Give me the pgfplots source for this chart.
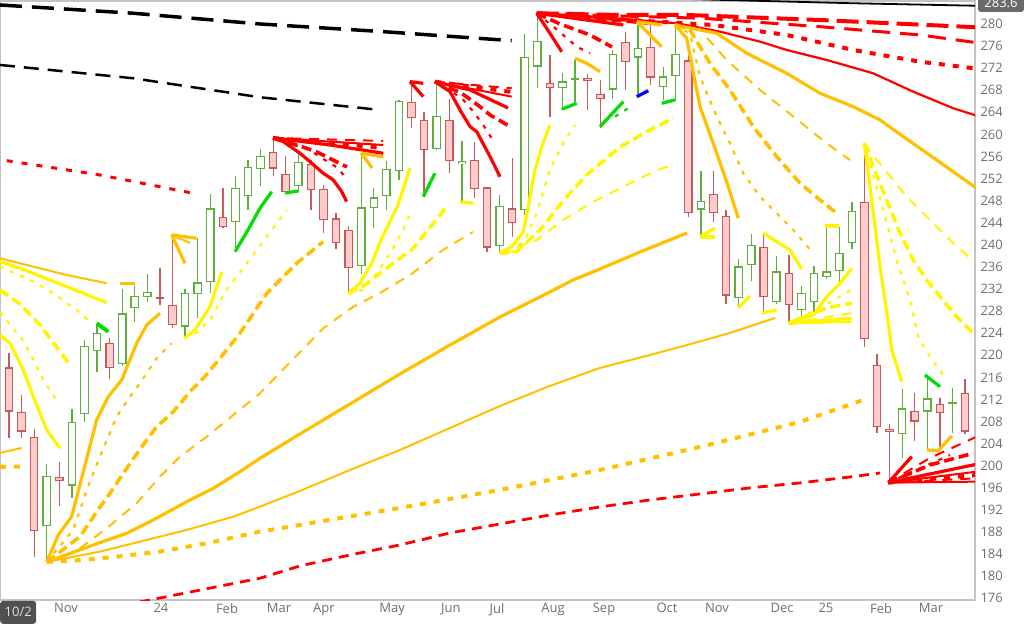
\documentclass[border=0pt]{standalone}
\usepackage{fontspec}
\setmainfont{Open Sans}
\usepackage{pgfplots}
\usepackage{pgfplotstable}
\pgfplotsset{compat=1.18}
\definecolor{ylw}{HTML}{FFF500}
\definecolor{orng}{HTML}{FFC000}
\definecolor{rd}{HTML}{FF0000}
\definecolor{grn}{HTML}{00DD00}
\definecolor{blu}{HTML}{0000FF}
\definecolor{gout}{HTML}{5FAE3E}
\definecolor{rout}{HTML}{C65A5A}
\definecolor{rfill}{HTML}{FFCCCC}
\definecolor{axgray}{HTML}{C4C4C4}
\definecolor{tickgray}{HTML}{6E6E6E}
\definecolor{boxgray}{HTML}{505050}
\definecolor{lblgray}{HTML}{6A6A6A}
\tikzset{
 sthk/.style={line width=3.2pt, solid},
 sthn/.style={line width=2pt, solid},
 dotn/.style={line width=2.2pt, dash pattern=on 4pt off 7pt},
 dshk/.style={line width=3.6pt, dash pattern=on 10pt off 5pt},
 dshn/.style={line width=2pt, dash pattern=on 10pt off 8pt},
 dotk/.style={line width=4pt, dash pattern=on 6pt off 8pt},
}
\pgfplotstableread{
i o h l c
3 189.1 200.3 182.5 198.2
5 196.4 210.3 194.1 208.0
6 209.4 222.8 208.0 221.7
7 220.7 225.5 216.9 224.0
9 218.4 232.1 218.1 227.6
10 228.5 232.6 226.1 230.8
11 230.5 234.7 229.7 231.5
14 225.2 232.1 223.1 231.3
15 231.1 241.2 226.7 233.2
16 233.2 249.2 231.3 246.6
18 244.1 252.4 238.7 250.3
19 248.9 255.3 246.3 254.1
20 253.7 257.4 250.6 256.1
23 250.7 256.5 249.6 255.0
28 236.2 256.0 234.7 246.8
29 246.6 250.3 243.0 248.6
30 248.9 255.1 246.3 253.7
31 253.3 266.2 251.8 266.1
34 257.4 269.6 257.1 263.4
36 254.6 258.8 247.5 255.2
39 239.8 249.0 238.5 247.1
41 246.3 278.1 245.4 274.1
42 272.3 281.9 268.4 277.0
44 268.4 271.1 265.0 269.6
45 269.8 273.5 265.9 270.2
48 268.1 275.3 266.5 274.6
50 273.9 280.2 267.3 275.6
52 268.6 272.3 266.2 270.5
53 270.6 279.8 266.1 274.6
55 246.4 253.3 241.6 248.0
58 230.3 237.4 228.9 236.1
59 236.4 241.9 233.4 240.0
61 229.7 238.0 229.3 235.2
63 228.2 232.6 227.0 231.3
64 229.7 236.2 227.9 235.0
65 234.2 243.4 233.8 235.2
66 235.2 243.3 233.0 238.6
67 240.3 247.8 239.3 246.1
71 205.7 213.9 201.5 210.4
73 209.8 215.8 203.0 212.2
75 211.3 214.0 206.0 211.5
}\upc
\pgfplotstableread{
i o h l c
0 217.8 220.5 205.0 209.8
1 209.8 212.8 205.0 206.2
2 205.3 206.7 183.5 188.2
4 198.0 200.7 192.7 197.3
8 222.3 223.2 215.8 217.7
12 230.5 235.8 229.1 230.3
13 229.1 241.8 224.9 225.5
17 245.0 250.3 243.1 243.2
21 256.8 259.3 252.5 253.8
22 252.8 256.1 249.5 249.6
24 254.6 255.4 246.3 249.9
25 250.1 250.8 242.1 244.5
26 244.8 245.7 239.3 240.3
27 242.7 243.5 231.2 235.8
32 265.9 269.3 261.1 262.9
33 262.7 264.1 248.9 257.1
35 262.7 266.4 253.0 255.1
37 255.4 258.7 248.4 250.1
38 250.4 250.5 238.8 239.5
40 246.6 255.7 241.5 243.9
43 269.3 274.4 263.1 268.4
46 270.3 271.0 264.4 269.6
47 267.4 269.9 261.1 266.4
49 276.8 278.5 268.0 273.1
51 275.9 279.8 269.0 270.3
54 273.4 274.4 245.1 245.7
56 249.2 253.3 244.2 245.7
57 245.2 246.3 229.3 230.8
60 239.7 241.9 228.0 230.5
62 235.0 238.2 225.8 229.1
68 247.8 258.4 221.6 223.0
69 218.3 220.2 206.0 207.0
70 206.7 207.5 196.9 206.2
72 210.0 213.1 204.5 208.0
74 211.2 212.3 203.2 209.5
76 213.2 215.7 205.8 206.2
}\dnc
\newcommand{\drawcandles}[3]{%
\addplot[draw=none, mark=none, error bars/.cd, y dir=both, y explicit, error mark=none, error bar style={line width=1.3pt, draw=#2, solid}] table[x=i, y expr={(\thisrow{h}+\thisrow{l})/2}, y error expr={(\thisrow{h}-\thisrow{l})/2}] {#1};
\addplot[draw=none, mark=none, error bars/.cd, y dir=both, y explicit, error mark=none, error bar style={line width=8.6pt, draw=#2, solid}] table[x=i, y expr={(\thisrow{o}+\thisrow{c})/2}, y error expr={max(abs(\thisrow{c}-\thisrow{o})/2,0.13)}] {#1};
\addplot[draw=none, mark=none, error bars/.cd, y dir=both, y explicit, error mark=none, error bar style={line width=6.2pt, draw=#3, solid}] table[x=i, y expr={(\thisrow{o}+\thisrow{c})/2}, y error expr={max(abs(\thisrow{c}-\thisrow{o})/2-0.22,0)}] {#1};
}
\begin{document}
\begin{tikzpicture}
\useasboundingbox (0,0) rectangle (1024pt,625pt);
\begin{axis}[
 at={(0pt,25pt)}, anchor=south west,
 scale only axis, width=975pt, height=599pt,
 xmin=-0.715, xmax=76.79, ymin=175.7, ymax=284.16,
 axis line style={draw=axgray, line width=1.2pt},
 ytick={176,180,...,280},
 yticklabel pos=right,
 xtick={4.53,12.08,17.33,21.46,25.04,30.45,35.13,38.79,43.24,47.3,52.31,56.28,61.45,64.94,69.32,73.29},
 xticklabels={Nov,24,Feb,Mar,Apr,May,Jun,Jul,Aug,Sep,Oct,Nov,Dec,25,Feb,Mar},
 major tick length=0pt,
 tick style={draw=none},
 ticklabel style={font=\fontsize{13}{15}\selectfont, text=tickgray},
 /pgf/number format/assume math mode=true,
 yticklabel style={anchor=west, xshift=2pt},
 xticklabel style={anchor=north},
 no markers,
 every axis plot/.append style={line join=round},
]
\drawcandles{\upc}{gout}{white}
\drawcandles{\dnc}{rout}{rfill}

% black lines at top
\addplot[black, line width=3.5pt, dash pattern=on 22pt off 10pt] coordinates {(-0.72,283.44)(9.88,281.94)(19.95,280.00)(29.75,278.61)(39.96,276.98)};
\addplot[black, line width=2.5pt, dash pattern=on 15pt off 9pt] coordinates {(-0.72,272.58)(9.88,270.17)(19.95,266.73)(29.49,264.43)};
\addplot[black, line width=1.8pt] coordinates {(53.0,284.6)(56.78,284.35)(67.11,283.75)(76.92,283.3)};
\addplot[rd, line width=3pt, dash pattern=on 6pt off 9pt] coordinates {(-0.18,255.25)(7.23,252.66)(14.65,249.35)};

% top-left fan
\addplot[orng, sthn] coordinates {(-0.72,237.58)(1.93,236.06)(4.59,234.55)(7.77,233.05)};
\addplot[orng, sthk] coordinates {(8.82,233.05)(10.02,233.05)};
\addplot[ylw, sthk] coordinates {(-0.72,236.96)(0.87,235.77)(3.26,233.65)(5.91,231.24)(7.77,229.54)};
\addplot[ylw, dotn] coordinates {(-0.72,236.06)(1.67,233.65)(3.52,231.24)(5.38,228.22)(6.57,225.81)};
\addplot[ylw, dshk] coordinates {(-0.72,231.84)(0.87,229.30)(2.46,225.50)(3.66,221.88)(4.85,218.26)};
\addplot[ylw, dotn] coordinates {(-0.72,227.85)(1.27,222.24)(1.93,219.16)(2.73,215.54)(3.79,211.92)};
\addplot[ylw, sthk] coordinates {(-0.72,223.69)(0.08,222.19)(1.14,217.35)(1.93,212.52)(3.0,206.49)(4.05,203.17)};
\addplot[orng, sthn] coordinates {(-0.72,202.33)(1.01,203.23)};
\addplot[orng, dotk] coordinates {(-0.72,199.79)(1.01,199.85)};
\addplot[grn, line width=4pt] coordinates {(6.97,225.81)(7.89,224.29)};

% L1 fan from Oct 2023 low
\addplot[orng, sthk] coordinates {(3.0,182.6)(3.92,187.48)(4.98,190.79)(6.97,208.30)(7.89,212.52)(8.96,215.54)(10.15,222.19)(10.95,225.50)(12.0,227.62)};
\addplot[orng, dotn] coordinates {(3.0,182.6)(5.11,188.39)(6.18,195.63)(7.23,201.66)(8.56,208.90)(9.62,212.52)(10.41,214.94)(11.74,219.47)(12.93,222.19)};
\addplot[orng, dshk] coordinates {(3.0,182.6)(5.64,187.17)(6.97,191.70)(8.03,195.03)(9.62,200.46)(10.95,204.68)(11.74,207.09)(13.06,209.80)(14.39,213.42)(15.45,215.85)(16.77,219.47)(18.36,224.00)(20.49,231.24)(22.87,236.67)(24.98,240.58)};
\addplot[orng, dshn] coordinates {(3.0,182.6)(5.11,184.16)(7.77,188.69)(10.15,193.22)(12.0,198.03)(13.59,201.66)(15.72,205.28)(17.83,209.20)(19.95,213.13)(24.98,224.90)(27.37,228.81)(29.49,231.29)(31.88,234.55)(34.5,239.08)(36.88,242.34)};
\addplot[orng, sthk] coordinates {(3.0,182.6)(6.70,185.67)(9.36,187.79)(11.47,190.19)(14.13,193.51)(16.24,195.93)(18.36,198.94)(19.95,201.36)(23.13,205.77)(27.11,211.20)(31.08,216.63)(35.06,221.88)(39.03,226.95)(43.0,231.48)(44.83,233.65)(46.98,235.64)(50.16,238.72)(53.9,242.16)};
\addplot[orng, sthn] coordinates {(3.0,182.6)(7.23,184.46)(10.41,186.27)(14.13,188.39)(17.83,190.79)(19.95,192.60)(23.13,195.45)(27.11,199.25)(31.08,202.87)(35.06,206.85)(39.03,210.83)(43.0,214.46)(46.98,217.72)(50.95,220.07)(53.34,221.52)(57.31,224.05)(60.89,226.77)};
\addplot[orng, dotk] coordinates {(3.0,182.6)(5.91,182.95)(8.56,183.55)(12.0,184.46)(15.72,185.97)(19.95,188.08)(23.13,189.29)(31.08,192.37)(39.03,195.63)(46.98,199.25)(54.93,203.41)(62.88,207.94)(67.89,211.92)};
\addplot[rd, line width=2.8pt, dash pattern=on 10pt off 7pt] coordinates {(10.41,175.35)(11.21,175.71)(19.95,179.64)(23.13,181.87)(27.11,183.86)(31.08,185.67)(35.06,187.84)(39.03,189.47)(43.0,191.10)(46.98,192.55)(50.95,193.82)(54.93,194.90)(58.9,196.00)(62.88,196.90)(66.85,197.98)(69.24,198.70)};

% L2 fan
\addplot[ylw, sthk] coordinates {(13.94,223.09)(14.79,224.60)(15.98,228.81)(16.91,235.15)};
\addplot[grn, sthk] coordinates {(17.97,238.77)(19.0,242.70)(19.95,246.63)(20.88,249.64)};
\addplot[grn, sthk] coordinates {(21.94,249.40)(23.0,249.76)};
\addplot[ylw, dotn] coordinates {(13.94,223.09)(15.02,224.23)(16.14,226.95)(17.17,231.48)(18.9,236.67)(20.49,241.49)(22.08,246.32)};
\addplot[orng, sthk] coordinates {(12.93,241.80)(14.92,241.20)};
\addplot[orng, sthk] coordinates {(12.93,241.80)(13.99,236.67)};
\addplot[orng, sthn] coordinates {(12.93,241.80)(14.39,240.35)};

% H2 red fan
\addplot[rd, sthk] coordinates {(20.99,259.36)(21.81,258.69)(23.13,256.59)(23.93,255.07)(24.98,252.97)(25.78,251.75)(26.45,249.64)(26.84,247.83)};
\addplot[rd, dshk] coordinates {(20.99,259.36)(23.13,257.91)(24.48,256.82)(26.07,255.01)(26.87,254.11)};
\addplot[rd, dotn] coordinates {(20.99,259.36)(22.6,258.09)(23.67,257.49)(25.52,254.78)(26.18,253.87)(26.87,251.75)};
\addplot[rd, sthn] coordinates {(20.99,259.36)(29.75,258.09)};
\addplot[rd, sthk] coordinates {(20.99,259.36)(25.52,258.09)(29.75,256.59)};
\addplot[rd, dshn] coordinates {(20.99,259.36)(29.75,258.82)};
\addplot[rd, dotk] coordinates {(20.99,259.36)(29.75,257.55)};
\addplot[orng, sthk] coordinates {(27.98,256.64)(29.73,255.92)};
\addplot[orng, sthk] coordinates {(27.98,256.64)(28.86,253.93)};

% L3 fan
\addplot[ylw, sthk] coordinates {(26.97,231.24)(27.9,233.05)(28.83,236.67)(29.57,240.89)(30.92,247.23)(31.88,253.93)};
\addplot[grn, sthk] coordinates {(32.93,248.73)(33.86,252.97)};
\addplot[ylw, dotn] coordinates {(26.97,231.24)(28.16,231.84)(29.23,234.86)(30.29,238.48)(31.34,242.70)(31.88,245.73)};
\addplot[ylw, dshk] coordinates {(26.97,231.24)(28.3,232.74)(29.49,234.86)(32.14,239.39)(34.79,246.92)};
\addplot[ylw, sthk] coordinates {(35.85,247.77)(36.91,247.53)};

% H3, H4 red fans
\addplot[rd, sthk] coordinates {(31.88,269.55)(32.93,266.84)};
\addplot[rd, sthk] coordinates {(31.88,269.55)(32.93,269.26)};
\addplot[rd, sthk] coordinates {(33.86,269.55)(35.06,267.74)(35.85,264.43)(36.65,261.41)(37.18,260.50)(38.24,255.97)(39.03,252.35)};
\addplot[rd, dshk] coordinates {(33.86,269.55)(35.99,267.45)(37.44,265.03)(38.24,263.52)(39.83,261.41)};
\addplot[rd, dotn] coordinates {(33.86,269.55)(35.99,266.60)(36.91,264.12)(37.7,261.71)(38.37,259.30)};
\addplot[rd, sthn] coordinates {(33.86,269.55)(39.96,266.84)};
\addplot[rd, sthk] coordinates {(33.86,269.55)(36.65,268.05)(39.67,264.79)};
\addplot[rd, dshn] coordinates {(33.86,269.55)(39.96,268.36)};
\addplot[rd, dotk] coordinates {(33.86,269.55)(39.96,267.69)};

% L4 fan
\addplot[ylw, sthk] coordinates {(39.0,238.48)(39.96,239.68)(40.88,242.39)(41.28,246.92)(41.81,253.57)(42.35,257.78)(43.0,261.71)};
\addplot[grn, sthk] coordinates {(43.94,264.56)(45.13,265.64)};
\addplot[ylw, dotn] coordinates {(39.0,238.48)(40.09,238.77)(41.15,241.49)(41.95,245.73)(43.0,253.57)(44.06,258.40)(44.99,261.71)};
\addplot[grn, sthk] coordinates {(46.98,261.41)(48.83,265.93)};
\addplot[ylw, dshk] coordinates {(39.0,238.48)(40.36,238.77)(42.21,242.70)(44.33,248.73)(45.92,252.66)(48.57,257.73)(50.69,260.50)(52.81,262.93)};
\addplot[ylw, dshn] coordinates {(39.0,238.48)(41.95,240.89)(44.06,244.51)(46.45,247.83)(48.57,250.25)(50.69,252.66)(52.94,254.78)};
\addplot[grn, dotn] coordinates {(48.17,263.22)(49.21,264.74)};
\addplot[blu, sthk] coordinates {(49.9,266.84)(50.82,267.92)};
\addplot[grn, sthk] coordinates {(51.88,265.64)(52.94,266.24)};

% H5 red fan (Jul high)
\addplot[rd, sthk] coordinates {(41.95,281.94)(42.93,278.55)(43.94,274.98)};
\addplot[rd, dshk] coordinates {(41.95,281.94)(43.8,280.00)(46.18,278.01)(47.93,275.84)};
\addplot[rd, dotn] coordinates {(41.95,281.94)(43.4,279.27)(45.13,275.89)(46.18,274.70)};
\addplot[rd, line width=4pt, dash pattern=on 22pt off 8pt] coordinates {(41.95,281.94)(48.57,281.63)(53.9,281.63)(64.47,280.72)(76.92,279.40)};
\addplot[rd, line width=3pt, dash pattern=on 18pt off 10pt] coordinates {(41.95,281.94)(48.57,281.45)(55.17,281.03)(64.47,279.51)(72.42,278.01)(76.92,276.61)};
\addplot[rd, dotk] coordinates {(41.95,281.94)(49.36,280.72)(55.96,279.82)(61.82,278.01)(67.11,275.29)(72.42,273.17)(76.65,271.98)};
\addplot[rd, line width=2.2pt] coordinates {(41.95,281.94)(46.98,281.27)(53.08,280.13)(56.52,278.61)(59.7,276.80)(61.82,275.29)(65.0,273.48)(68.7,271.07)(71.88,267.74)(75.06,264.74)(76.92,263.40)};
\addplot[rd, sthk] coordinates {(41.95,281.94)(48.83,279.82)};
\addplot[rd, dshk] coordinates {(41.95,281.94)(50.95,280.13)};
\addplot[orng, sthk] coordinates {(44.99,273.79)(46.03,272.76)(46.98,271.36)};
\addplot[orng, sthk] coordinates {(49.9,280.42)(51.88,275.89)};
\addplot[orng, sthk] coordinates {(49.9,280.42)(51.88,279.82)};

% H7 orange fan (Oct high)
\addplot[orng, sthk] coordinates {(52.94,279.82)(53.87,277.41)(54.93,265.03)(56.26,256.59)(57.18,250.54)(57.97,244.82)};
\addplot[orng, dotn] coordinates {(52.94,279.82)(54.13,278.32)(54.93,270.46)(56.26,263.22)(57.31,258.40)(58.37,252.97)(59.7,248.73)(61.29,245.11)(62.35,242.70)(63.81,238.77)};
\addplot[orng, dshk] coordinates {(52.94,279.82)(54.13,278.91)(55.72,272.88)(57.31,268.05)(59.17,261.41)(61.03,255.97)(62.88,251.16)(64.47,248.13)(65.8,245.73)};
\addplot[orng, dshn] coordinates {(52.94,279.82)(54.93,278.91)(57.05,273.48)(59.7,268.05)(62.35,263.22)(65.0,258.40)(66.85,255.37)};
\addplot[orng, sthk] coordinates {(52.94,279.82)(56.26,278.32)(58.64,274.70)(61.82,271.07)(64.47,267.45)(67.11,265.03)(69.24,262.62)(71.09,259.60)(73.74,255.37)(76.92,250.25)};

% small yellow marks Nov-Jan
\addplot[ylw, sthk] coordinates {(54.93,241.49)(56.12,243.01)};
\addplot[ylw, sthk] coordinates {(54.93,241.43)(56.12,241.43)};
\addplot[ylw, sthk] coordinates {(57.97,228.58)(58.9,230.75)};
\addplot[ylw, sthk] coordinates {(59.94,242.16)(62.08,239.08)(63.01,235.64)};
\addplot[ylw, sthk] coordinates {(59.83,227.62)(61.03,228.22)};
\addplot[ylw, sthk] coordinates {(61.95,225.81)(63.94,227.31)(65.0,230.63)(66.06,233.05)(66.99,235.77)};
\addplot[ylw, dotn] coordinates {(61.95,225.81)(64.47,228.58)(66.99,231.84)};
\addplot[ylw, dshk] coordinates {(61.95,225.81)(65.0,228.58)(66.99,229.43)};
\addplot[ylw, dshn] coordinates {(61.95,225.81)(66.99,227.62)};
\addplot[ylw, sthk] coordinates {(61.95,225.81)(66.99,226.71)};
\addplot[ylw, sthn] coordinates {(61.95,225.81)(66.99,226.05)};
\addplot[ylw, dotk] coordinates {(61.95,225.81)(66.99,226.41)};
\addplot[ylw, sthk] coordinates {(64.87,243.42)(66.0,243.42)};

% H10 yellow fan (Jan 2025 high)
\addplot[ylw, sthk] coordinates {(67.99,258.40)(68.58,248.13)(69.24,236.06)(69.9,225.81)(70.17,220.97)(70.96,215.24)};
\addplot[ylw, dotn] coordinates {(67.99,258.40)(68.58,253.57)(69.5,246.32)(70.56,237.27)(71.62,230.03)(72.28,223.38)(73.21,219.76)(74.54,215.54)};
\addplot[grn, sthk] coordinates {(72.81,216.45)(74.01,214.33)};
\addplot[ylw, dshk] coordinates {(67.99,258.40)(68.7,254.16)(69.77,248.13)(70.83,242.10)(71.88,237.27)(72.95,233.65)(74.01,230.63)(75.33,227.01)(76.92,223.38)};
\addplot[ylw, dshn] coordinates {(67.99,258.40)(68.98,255.37)(71.36,248.73)(73.47,243.91)(75.33,239.68)(76.92,236.67)};

% L9 red fan (Feb 2025 low)
\addplot[rd, sthk] coordinates {(69.9,196.95)(71.76,201.66)};
\addplot[rd, dotn] coordinates {(69.9,196.95)(74.8,201.96)};
\addplot[rd, dshk] coordinates {(69.9,196.95)(73.21,200.15)(76.65,202.27)};
\addplot[rd, dshn] coordinates {(69.9,196.95)(73.21,201.42)(76.92,205.27)};
\addplot[rd, sthk] coordinates {(69.9,196.95)(76.92,200.28)};
\addplot[rd, sthn] coordinates {(69.9,196.95)(76.92,198.94)};
\addplot[rd, dotk] coordinates {(69.9,196.95)(76.92,198.34)};
\addplot[rd, dshn] coordinates {(69.9,196.95)(76.92,197.74)};
\addplot[rd, sthn] coordinates {(69.9,196.95)(76.92,197.13)};
\addplot[orng, sthk] coordinates {(72.97,202.87)(73.87,202.74)(74.94,205.40)};
\end{axis}
\node[anchor=south west, fill=boxgray, rounded corners=3pt, minimum width=36pt, minimum height=23pt, inner sep=0pt, text=white!88!black, font=\fontsize{13}{15}\selectfont] at (0pt,1pt) {10/2};
\node[fill=lblgray, rounded corners=3pt, minimum width=46pt, minimum height=18pt, inner sep=0pt, text=white, font=\fontsize{13}{15}\selectfont] at (1001pt,622pt) {283.6};
\end{tikzpicture}
\end{document}
